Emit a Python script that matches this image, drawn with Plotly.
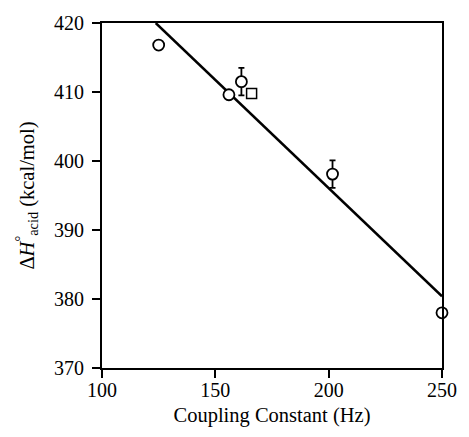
import plotly.graph_objects as go

# Data
circle_x = [125, 156, 161.5, 201.7, 250]
circle_y = [416.8, 409.6, 411.5, 398.1, 378.0]
circle_err = [0, 0, 2.0, 2.0, 0]
square_x = [166]
square_y = [409.8]
fit_x = [123.7, 250]
fit_y = [420, 380.4]

xticks = [100, 150, 200, 250]
yticks = [370, 380, 390, 400, 410, 420]

font = "Liberation Serif, Times New Roman, serif"

fig = go.Figure()
fig.add_trace(go.Scatter(x=fit_x, y=fit_y, mode="lines",
                         line=dict(color="black", width=2.5),
                         showlegend=False, cliponaxis=False))
fig.add_trace(go.Scatter(x=circle_x, y=circle_y, mode="markers",
                         marker=dict(symbol="circle", size=11, color="white",
                                     line=dict(color="black", width=1.8)),
                         error_y=dict(type="data", array=circle_err, visible=True,
                                      color="black", thickness=1.8, width=3),
                         showlegend=False, cliponaxis=False))
fig.add_trace(go.Scatter(x=square_x, y=square_y, mode="markers",
                         marker=dict(symbol="square", size=10, color="white",
                                     line=dict(color="black", width=1.5)),
                         showlegend=False, cliponaxis=False))

axis_common = dict(showline=True, linecolor="black", linewidth=2, mirror=True,
                   ticks="outside", ticklen=8, tickwidth=2, tickcolor="black",
                   showgrid=False, zeroline=False,
                   tickfont=dict(family=font, size=20, color="black"))

fig.update_xaxes(range=[100, 250], tickvals=xticks, ticklabelstandoff=-5,
                 title=dict(text="Coupling Constant (Hz)", standoff=8,
                            font=dict(family=font, size=20.5, color="black")),
                 **axis_common)
fig.update_yaxes(range=[370, 420], tickvals=yticks, ticklabelstandoff=4,
                 title=dict(text="Δ<i>H</i><sup>°</sup><sub>acid</sub> (kcal/mol)", standoff=14,
                            font=dict(family=font, size=20.5, color="black")),
                 **axis_common)

fig.update_layout(width=469, height=437,
                  margin=dict(l=102, r=17, t=21, b=69),
                  paper_bgcolor="white", plot_bgcolor="white",
                  font=dict(family=font, color="black"))

fig.write_html("out.html", config={"displayModeBar": False},
               post_script="document.body.style.margin='0';document.body.style.padding='0';")
